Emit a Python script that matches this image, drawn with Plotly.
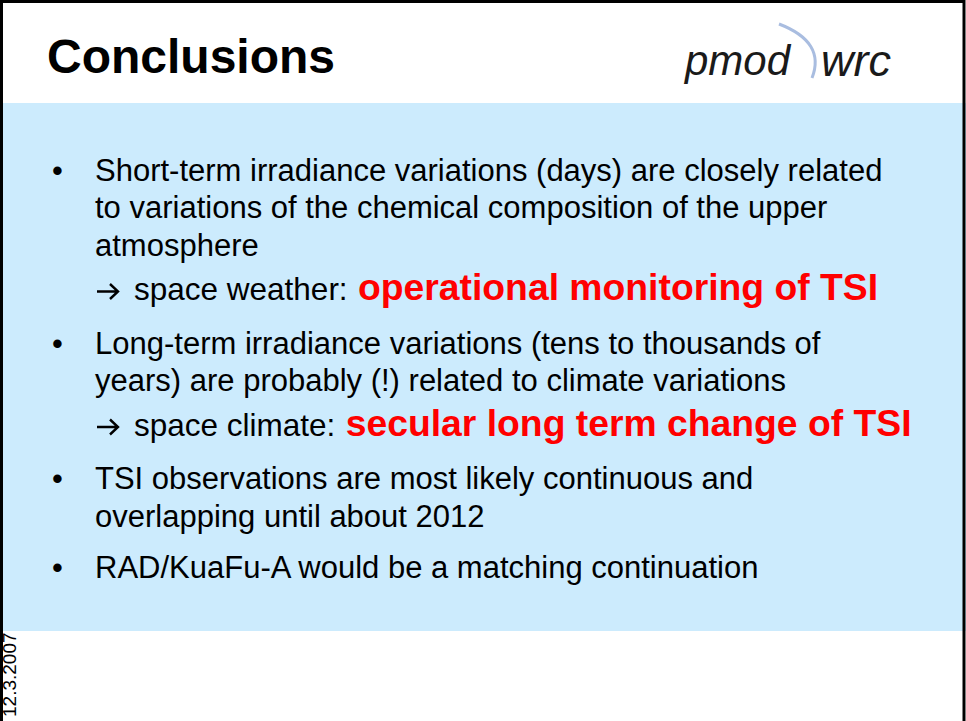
"""
Slide "Conclusions" rebuilt with plotly shapes and annotations
"""
import plotly.graph_objects as go

# slide content
title = "Conclusions"
logo_left = "pmod"
logo_right = "wrc"
date_label = "12.3.2007"

bullets = [
    [
        "Short-term irradiance variations (days) are closely related",
        "to variations of the chemical composition of the upper",
        "atmosphere",
    ],
    [
        "Long-term irradiance variations (tens to thousands of",
        "years) are probably (!) related to climate variations",
    ],
    [
        "TSI observations are most likely continuous and",
        "overlapping until about 2012",
    ],
    ["RAD/KuaFu-A would be a matching continuation"],
]
arrow_prefix = ["space weather:", "space climate:", None, None]
arrow_highlight = [
    "operational monitoring of TSI",
    "secular long term change of TSI",
    None,
    None,
]

# layout (pixel coordinates, y grows downward)
W, H = 966, 721
FONT = "Liberation Sans, Arial, sans-serif"
BODY_SIZE = 31
RED_SIZE = 37.3
LINE_STEP = 37.5
ARROW_STEP = 42
GAP_AFTER_ARROW = 56
GAP_PLAIN = 51
BLUE = "#CCEBFD"

fig = go.Figure()
fig.update_layout(
    width=W,
    height=H,
    margin=dict(l=0, r=0, t=0, b=0),
    paper_bgcolor="white",
    plot_bgcolor="white",
    showlegend=False,
    xaxis=dict(range=[0, W], visible=False, fixedrange=True),
    yaxis=dict(range=[H, 0], visible=False, fixedrange=True),
)

shapes = [
    # blue content panel
    dict(type="rect", x0=0, x1=W, y0=103, y1=631, fillcolor=BLUE,
         line=dict(width=0), layer="below"),
    # slide frame (left, top, right edges)
    dict(type="path",
         path=f"M 1.5,{H + 5} L 1.5,1.5 L {W - 2},1.5 L {W - 2},{H + 5}",
         line=dict(color="black", width=3)),
    # logo arc
    dict(type="path", path="M 779,24 Q 826,42 812,78",
         line=dict(color="#a9bde0", width=3)),
]

annotations = [
    dict(x=45, y=56, text=f"<b>{title}</b>", showarrow=False,
         xanchor="left", yanchor="middle",
         font=dict(family=FONT, size=48, color="black")),
    dict(x=681, y=60, text=f"<i>{logo_left}</i>", showarrow=False,
         xanchor="left", yanchor="middle",
         font=dict(family=FONT, size=42, color="#1a1a1a")),
    dict(x=819, y=60, text=f"<i>{logo_right}</i>", showarrow=False,
         xanchor="left", yanchor="middle",
         font=dict(family=FONT, size=45, color="#1a1a1a")),
    dict(x=9, y=675, text=date_label, showarrow=False, textangle=-90,
         xanchor="center", yanchor="middle",
         font=dict(family=FONT, size=19, color="black")),
]

y = 170
for lines, prefix, red in zip(bullets, arrow_prefix, arrow_highlight):
    annotations.append(
        dict(x=50, y=y, text="•", showarrow=False, xanchor="left",
             yanchor="middle",
             font=dict(family=FONT, size=BODY_SIZE, color="black"))
    )
    for i, line in enumerate(lines):
        annotations.append(
            dict(x=93, y=y + i * LINE_STEP, text=line, showarrow=False,
                 xanchor="left", yanchor="middle",
                 font=dict(family=FONT, size=BODY_SIZE, color="black"))
        )
    y += (len(lines) - 1) * LINE_STEP
    if prefix:
        y += ARROW_STEP
        ay = y + 4.5
        # "→" drawn as a stroke so it keeps the slide's wide arrow glyph
        shapes.append(
            dict(type="path",
                 path=(f"M 97,{ay} L 118,{ay} "
                       f"M 110,{ay - 7.5} L 118,{ay} L 110,{ay + 7.5}"),
                 line=dict(color="black", width=2.4))
        )
        annotations.append(
            dict(x=132, y=y,
                 text=(f"{prefix}<span style='color:#FF0000;"
                       f"font-size:{RED_SIZE}px'><b> {red}</b></span>"),
                 showarrow=False, xanchor="left", yanchor="middle",
                 font=dict(family=FONT, size=BODY_SIZE + 0.5,
                           color="black"))
        )
        y += GAP_AFTER_ARROW
    else:
        y += GAP_PLAIN

fig.update_layout(shapes=shapes, annotations=annotations)
fig.write_html(
    "out.html",
    config={"displayModeBar": False},
    post_script=(
        "document.body.style.margin='0';"
        "document.documentElement.style.overflow='hidden';"
    ),
)
